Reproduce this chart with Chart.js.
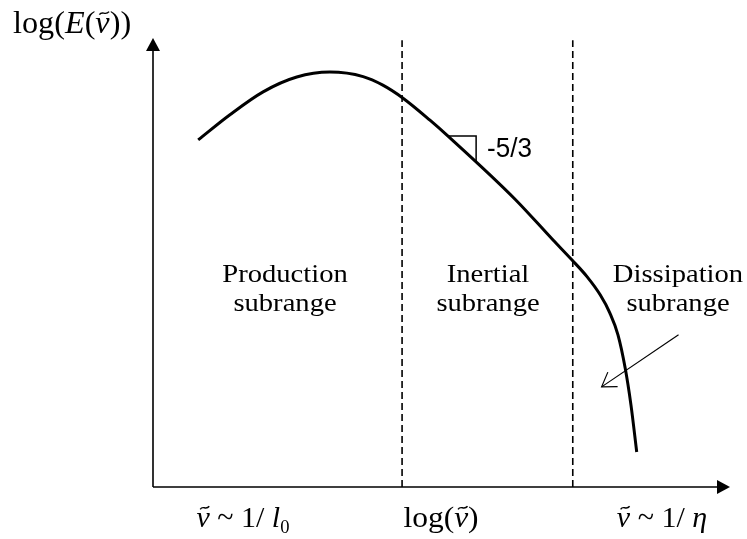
<!DOCTYPE html>
<html>
<head>
<meta charset="utf-8">
<script src="https://cdn.jsdelivr.net/npm/chart.js@4/dist/chart.umd.min.js"></script>
<style>
  html, body { margin: 0; padding: 0; background: #fff; }
  canvas { display: block; }
</style>
</head>
<body>
<canvas id="spectrum" width="747" height="539"></canvas>
<script>
// energy spectrum E(nu) vs wavenumber, both in log units
const logNu = [0.94, 1.60, 2.29, 2.99, 3.68, 4.37, 4.78, 5.20, 5.76, 6.13, 7.53, 8.32, 8.71, 9.03, 9.30, 9.50, 9.67, 9.82, 9.94, 10.06];
const logE = [7.73, 8.29, 8.80, 9.13, 9.24, 9.14, 8.95, 8.66, 8.17, 7.82, 6.41, 5.50, 5.06, 4.68, 4.28, 3.88, 3.39, 2.65, 1.83, 0.78];

// boundaries between the three subranges
const subrangeBounds = [5.18, 8.73];
const boundTop = 9.95;

// little slope triangle on the inertial part
const slopeMarkX = [6.13, 6.72, 6.72];
const slopeMarkY = [7.82, 7.82, 7.22];
const slopeLabel = "-5/3";

// pointer arrow towards the dissipation tail
const pointerX = [10.93, 9.33];
const pointerY = [3.39, 2.23];

const regionNames = [
  ["Production", "subrange"],
  ["Inertial", "subrange"],
  ["Dissipation", "subrange"],
];

const SERIF = "'Liberation Serif', 'Times New Roman', serif";
const SANS = "'Liberation Sans', Arial, sans-serif";

const toXY = (xs, ys) => xs.map((x, i) => ({ x: x, y: ys[i] }));

// draws a row of text runs (normal / italic / subscript), nu gets a tilde on top
function drawRuns(ctx, runs, x, y, size, align, sx) {
  let total = 0;
  runs.forEach((r) => {
    const s = r.sub ? size * 0.62 : size;
    r.font = (r.it ? "italic " : "") + s + "px " + SERIF;
    ctx.font = r.font;
    r.w = ctx.measureText(r.t).width;
    total += r.w;
  });
  const start = align === "center" ? x - (total * sx) / 2 : x;
  ctx.save();
  ctx.translate(start, y);
  ctx.scale(sx, 1);
  ctx.fillStyle = "#000";
  ctx.textAlign = "left";
  ctx.textBaseline = "alphabetic";
  let cx = 0;
  runs.forEach((r) => {
    ctx.font = r.font;
    ctx.fillText(r.t, cx, r.sub ? size * 0.2 : 0);
    if (r.tilde) {
      const tw = size * 0.3;
      const tx = cx + r.w * 0.62 - tw / 2;
      const ty = -size * 0.64;
      ctx.beginPath();
      ctx.lineWidth = 1.4;
      ctx.strokeStyle = "#000";
      ctx.moveTo(tx, ty + 1.5);
      ctx.bezierCurveTo(tx + tw * 0.3, ty - 3, tx + tw * 0.6, ty + 3, tx + tw, ty - 1.5);
      ctx.stroke();
    }
    cx += r.w;
  });
  ctx.restore();
}

function drawText(ctx, text, x, y, font, sx) {
  ctx.save();
  ctx.translate(x, y);
  ctx.scale(sx, 1);
  ctx.font = font;
  ctx.fillStyle = "#000";
  ctx.textAlign = "center";
  ctx.textBaseline = "alphabetic";
  ctx.fillText(text, 0, 0);
  ctx.restore();
}

const sketchPlugin = {
  id: "sketch",
  afterDatasetsDraw(chart) {
    const ctx = chart.ctx;
    const xs = chart.scales.x;
    const ys = chart.scales.y;
    const x0 = xs.getPixelForValue(0);
    const y0 = ys.getPixelForValue(0);
    const xEnd = xs.getPixelForValue(xs.max);
    const yEnd = ys.getPixelForValue(ys.max);

    ctx.save();
    ctx.strokeStyle = "#000";
    ctx.fillStyle = "#000";
    ctx.lineWidth = 1.6;

    // axes
    ctx.beginPath();
    ctx.moveTo(x0, y0);
    ctx.lineTo(x0, yEnd + 10);
    ctx.moveTo(x0, y0);
    ctx.lineTo(xEnd - 10, y0);
    ctx.stroke();

    ctx.beginPath();
    ctx.moveTo(x0, yEnd);
    ctx.lineTo(x0 - 7, yEnd + 13);
    ctx.lineTo(x0 + 7, yEnd + 13);
    ctx.closePath();
    ctx.fill();

    ctx.beginPath();
    ctx.moveTo(xEnd, y0);
    ctx.lineTo(xEnd - 13, y0 - 7);
    ctx.lineTo(xEnd - 13, y0 + 7);
    ctx.closePath();
    ctx.fill();

    // open head on the pointer arrow
    const pts = chart.getDatasetMeta(4).data;
    const tip = pts[1];
    const tail = pts[0];
    const ang = Math.atan2(tail.y - tip.y, tail.x - tip.x);
    const len = 16;
    const spread = (33 * Math.PI) / 180;
    ctx.lineWidth = 1.2;
    ctx.beginPath();
    ctx.moveTo(tip.x + len * Math.cos(ang - spread), tip.y + len * Math.sin(ang - spread));
    ctx.lineTo(tip.x, tip.y);
    ctx.lineTo(tip.x + len * Math.cos(ang + spread), tip.y + len * Math.sin(ang + spread));
    ctx.stroke();
    ctx.restore();

    // region names
    const regionFont = "26px " + SERIF;
    const centers = [285, 488, 678];
    regionNames.forEach((lines, i) => {
      drawText(ctx, lines[0], centers[i], 282, regionFont, 1.1);
      drawText(ctx, lines[1], centers[i], 311, regionFont, 1.1);
    });

    // slope label
    ctx.save();
    ctx.translate(487, 157);
    ctx.scale(0.93, 1);
    ctx.font = "28px " + SANS;
    ctx.fillStyle = "#000";
    ctx.textAlign = "left";
    ctx.fillText(slopeLabel, 0, 0);
    ctx.restore();

    // axis titles
    drawRuns(ctx, [
      { t: "log(" }, { t: "E", it: true }, { t: "(" }, { t: "\u03bd", it: true, tilde: true }, { t: "))" },
    ], 13, 33, 31, "left", 1.04);

    drawRuns(ctx, [
      { t: "\u03bd", it: true, tilde: true }, { t: " ~ 1/ " }, { t: "l", it: true }, { t: "0", sub: true },
    ], 243, 527, 30, "center", 1.0);

    drawRuns(ctx, [
      { t: "log(" }, { t: "\u03bd", it: true, tilde: true }, { t: ")" },
    ], 441, 527, 30, "center", 1.05);

    drawRuns(ctx, [
      { t: "\u03bd", it: true, tilde: true }, { t: " ~ 1/ " }, { t: "\u03b7", it: true },
    ], 662, 527, 30, "center", 1.0);
  },
};

new Chart(document.getElementById("spectrum"), {
  type: "line",
  data: {
    datasets: [
      {
        data: toXY(logNu, logE),
        borderColor: "#000",
        borderWidth: 3,
        pointRadius: 0,
        cubicInterpolationMode: "monotone",
      },
      {
        data: toXY([subrangeBounds[0], subrangeBounds[0]], [0, boundTop]),
        borderColor: "#000",
        borderWidth: 1.6,
        borderDash: [7, 4],
        pointRadius: 0,
      },
      {
        data: toXY([subrangeBounds[1], subrangeBounds[1]], [0, boundTop]),
        borderColor: "#000",
        borderWidth: 1.6,
        borderDash: [7, 4],
        pointRadius: 0,
      },
      {
        data: toXY(slopeMarkX, slopeMarkY),
        borderColor: "#000",
        borderWidth: 1.5,
        pointRadius: 0,
        tension: 0,
      },
      {
        data: toXY(pointerX, pointerY),
        borderColor: "#000",
        borderWidth: 1.2,
        pointRadius: 0,
        tension: 0,
      },
    ],
  },
  options: {
    responsive: false,
    animation: false,
    layout: { padding: { left: 153, right: 17, top: 38, bottom: 52 } },
    scales: {
      x: { type: "linear", min: 0, max: 12, display: false },
      y: { type: "linear", min: 0, max: 10, display: false },
    },
    plugins: {
      legend: { display: false },
      tooltip: { enabled: false },
    },
  },
  plugins: [sketchPlugin],
});
</script>
</body>
</html>
